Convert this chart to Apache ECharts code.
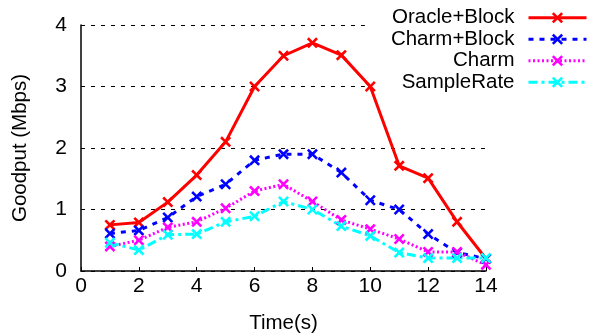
<!DOCTYPE html>
<html>
<head>
<meta charset="utf-8">
<script src="https://cdn.jsdelivr.net/npm/echarts@6/dist/echarts.min.js"></script>
<style>
  html, body { margin: 0; padding: 0; background: #fff; }
  #chart { width: 589px; height: 335px; }
</style>
</head>
<body>
<div id="chart"></div>
<script>
// temps (s)
const times = [1, 2, 3, 4, 5, 6, 7, 8, 9, 10, 11, 12, 13, 14];

// goodput (Mbps) par schéma
const oracleBlock = [0.75, 0.79, 1.12, 1.56, 2.10, 3.00, 3.50, 3.71, 3.51, 3.00, 1.71, 1.51, 0.80, 0.20];
const charmBlock = [0.61, 0.66, 0.87, 1.21, 1.41, 1.80, 1.90, 1.90, 1.60, 1.15, 1.00, 0.60, 0.30, 0.20];
const charm = [0.40, 0.50, 0.71, 0.80, 1.02, 1.30, 1.41, 1.13, 0.83, 0.68, 0.52, 0.31, 0.31, 0.10];
const sampleRate = [0.46, 0.34, 0.59, 0.60, 0.80, 0.89, 1.13, 1.00, 0.73, 0.57, 0.30, 0.21, 0.21, 0.21];

const font = 'Liberation Sans, Arial, Helvetica, sans-serif';
const cross = 'path://M0,2 L2,0 L6,4 L10,0 L12,2 L8,6 L12,10 L10,12 L6,8 L2,12 L0,10 L4,6 Z';

const pairs = (ys) => times.map((t, i) => [t, ys[i]]);

function makeSeries(name, ys, color, dash) {
  return {
    name: name,
    type: 'line',
    z: 3,
    data: pairs(ys),
    symbol: cross,
    symbolSize: 11,
    showAllSymbol: true,
    color: color,
    itemStyle: { color: color },
    lineStyle: { color: color, width: 3, type: dash },
    emphasis: { disabled: true },
    animation: false
  };
}

const chart = echarts.init(document.getElementById('chart'));
chart.setOption({
  animation: false,
  grid: { left: 81, right: 103, top: 25, bottom: 64, containLabel: false, outerBoundsMode: 'none' },
  legend: {
    z: 1,
    orient: 'vertical',
    align: 'right',
    right: 1,
    top: 5,
    padding: [2, 0, 2, 26],
    backgroundColor: '#fff',
    itemWidth: 58,
    itemHeight: 14,
    itemGap: 0,
    selectedMode: false,
    lineStyle: { width: 3 },
    textStyle: { fontFamily: font, fontSize: 20.5, color: '#000', lineHeight: 21.5, padding: [0, 9, 0, 0] },
    data: ['Oracle+Block', 'Charm+Block', 'Charm', 'SampleRate']
  },
  xAxis: {
    type: 'value',
    min: 0,
    max: 14,
    interval: 2,
    name: 'Time(s)',
    nameLocation: 'middle',
    nameGap: 42,
    nameTextStyle: { fontFamily: font, fontSize: 20.5, color: '#000' },
    axisLine: { lineStyle: { color: '#000', width: 1.5 } },
    axisTick: { inside: true, length: 4, lineStyle: { color: '#000', width: 1 } },
    axisLabel: { fontFamily: font, fontSize: 21, color: '#000', margin: 5 },
    splitLine: { show: false }
  },
  yAxis: {
    type: 'value',
    min: 0,
    max: 4,
    interval: 1,
    name: 'Goodput (Mbps)',
    nameLocation: 'middle',
    nameGap: 50,
    nameTextStyle: { fontFamily: font, fontSize: 20.5, color: '#000' },
    axisLine: { show: true, lineStyle: { color: '#000', width: 1.5 } },
    axisTick: { show: false },
    axisLabel: { fontFamily: font, fontSize: 21, color: '#000', margin: 14 },
    splitLine: { show: true, lineStyle: { color: '#000', width: 1, type: [4, 6] } }
  },
  series: [
    makeSeries('Oracle+Block', oracleBlock, '#ff0000', 'solid'),
    makeSeries('Charm+Block', charmBlock, '#0000ff', [5, 6]),
    makeSeries('Charm', charm, '#ff00ff', [2, 2.5]),
    makeSeries('SampleRate', sampleRate, '#00ffff', [9, 4, 3, 4])
  ]
});
</script>
</body>
</html>
